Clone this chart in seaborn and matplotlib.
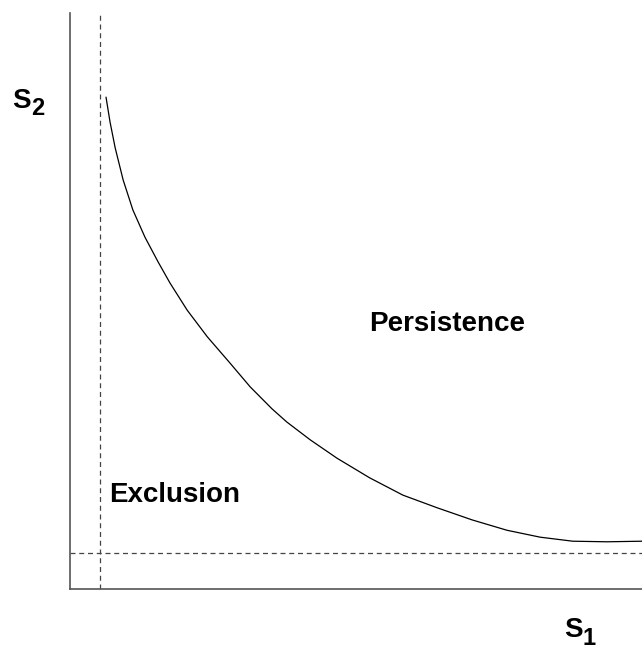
import numpy as np
import pandas as pd
import matplotlib
matplotlib.use("Agg")
from matplotlib import pyplot as plt
import seaborn as sns

# boundary curve (S1, S2)
s1 = [0.63, 0.70, 0.79, 0.93, 1.10, 1.31, 1.54, 1.75, 2.05, 2.40, 2.80, 3.15, 3.53,
      3.79, 4.20, 4.67, 5.24, 5.82, 6.42, 7.03, 7.64, 8.22, 8.79, 9.39, 10.0]
s2 = [8.54, 8.11, 7.66, 7.10, 6.58, 6.11, 5.68, 5.31, 4.84, 4.38, 3.92, 3.51, 3.13,
      2.90, 2.59, 2.27, 1.93, 1.63, 1.41, 1.20, 1.02, 0.90, 0.83, 0.82, 0.83]
s1_min = 0.52
s2_min = 0.62
regions = ["Persistence", "Exclusion"]

sns.set_style("white")
plt.rcParams['font.family'] = ['Liberation Sans', 'DejaVu Sans']

df = pd.DataFrame({"S1": s1, "S2": s2})

fig = plt.figure(figsize=(6.42, 6.52), dpi=100)
ax = fig.add_axes([0.109, 0.0966, 0.891, 0.8834])

sns.lineplot(data=df, x="S1", y="S2", color="black", linewidth=0.9, sort=False, ax=ax)
ax.axvline(s1_min, color="#444444", linestyle=(0, (4, 3)), linewidth=0.9)
ax.axhline(s2_min, color="#444444", linestyle=(0, (4, 3)), linewidth=0.9)

ax.set_xlim(0, 10)
ax.set_ylim(0, 10)
ax.set_xticks([])
ax.set_yticks([])
ax.set_xlabel("")
ax.set_ylabel("")
sns.despine(ax=ax)
for side in ["left", "bottom"]:
    ax.spines[side].set_color("#555555")
    ax.spines[side].set_linewidth(1.2)

ax.text(6.6, 4.6, regions[0], fontsize=20, fontweight="bold", color="black",
        ha="center", va="center")
ax.text(0.68, 1.63, regions[1], fontsize=20, fontweight="bold", color="black",
        ha="left", va="center")

# axis names: S with a large, lowered subscript
fig.text(12 / 642, 1 - 108 / 652, "S", fontsize=20, fontweight="bold", color="black",
         ha="left", va="baseline")
fig.text(31 / 642, 1 - 115 / 652, "2", fontsize=17, fontweight="bold", color="black",
         ha="left", va="baseline")
fig.text(564 / 642, 1 - 637 / 652, "S", fontsize=20, fontweight="bold", color="black",
         ha="left", va="baseline")
fig.text(583 / 642, 1 - 645 / 652, "1", fontsize=17, fontweight="bold", color="black",
         ha="left", va="baseline")

fig.savefig("out.png", dpi=100)
